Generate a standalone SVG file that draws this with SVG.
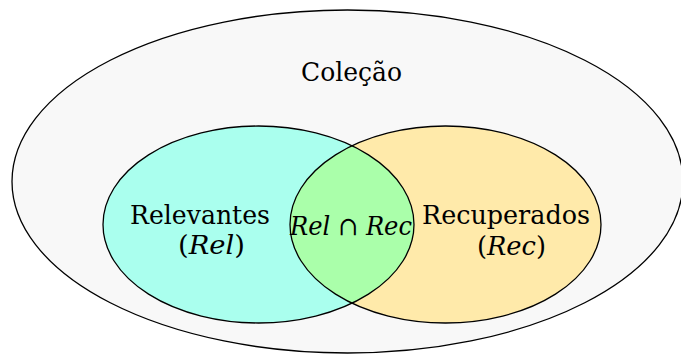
<svg xmlns="http://www.w3.org/2000/svg" width="681" height="354" viewBox="0 0 681 354">
  <style>
    .outline { fill: none; stroke: #000; stroke-width: 1.3; }
    .lbl { font-family: 'DejaVu Serif', serif; font-size: 26px; fill: #000; }
    .it { font-style: italic; }
  </style>
  <defs>
    <clipPath id="relClip">
      <ellipse cx="258.5" cy="224.5" rx="155.5" ry="98.5"/>
    </clipPath>
  </defs>
  <rect width="681" height="354" fill="#ffffff"/>

  <!-- universe set -->
  <g id="colecao">
    <ellipse cx="347.5" cy="181.5" rx="335.5" ry="171.5" fill="#f8f8f8" stroke="#000" stroke-width="1.3"/>
    <text class="lbl" x="301" y="81" textLength="101" lengthAdjust="spacingAndGlyphs">Coleção</text>
  </g>

  <!-- relevant documents -->
  <g id="relevantes">
    <ellipse cx="258.5" cy="224.5" rx="155.5" ry="98.5" fill="#aaffee"/>
  </g>

  <!-- retrieved documents -->
  <g id="recuperados">
    <ellipse cx="445.5" cy="224.5" rx="155.5" ry="98.5" fill="#ffeaaa"/>
  </g>

  <!-- overlap region -->
  <g id="intersecao">
    <ellipse cx="445.5" cy="224.5" rx="155.5" ry="98.5" fill="#aaffaa" clip-path="url(#relClip)"/>
  </g>

  <g id="contornos">
    <ellipse class="outline" cx="258.5" cy="224.5" rx="155.5" ry="98.5"/>
    <ellipse class="outline" cx="445.5" cy="224.5" rx="155.5" ry="98.5"/>
  </g>

  <g id="rotulos">
    <text class="lbl" x="130" y="224" textLength="140" lengthAdjust="spacingAndGlyphs">Relevantes</text>
    <text class="lbl" x="178" y="254" textLength="67" lengthAdjust="spacingAndGlyphs">(<tspan class="it">Rel</tspan>)</text>
    <text class="lbl it" x="290" y="235" textLength="122" lengthAdjust="spacingAndGlyphs">Rel<tspan font-style="normal"> ∩ </tspan>Rec</text>
    <text class="lbl" x="422" y="224" textLength="168" lengthAdjust="spacingAndGlyphs">Recuperados</text>
    <text class="lbl" x="477" y="255" textLength="69" lengthAdjust="spacingAndGlyphs">(<tspan class="it">Rec</tspan>)</text>
  </g>
</svg>
